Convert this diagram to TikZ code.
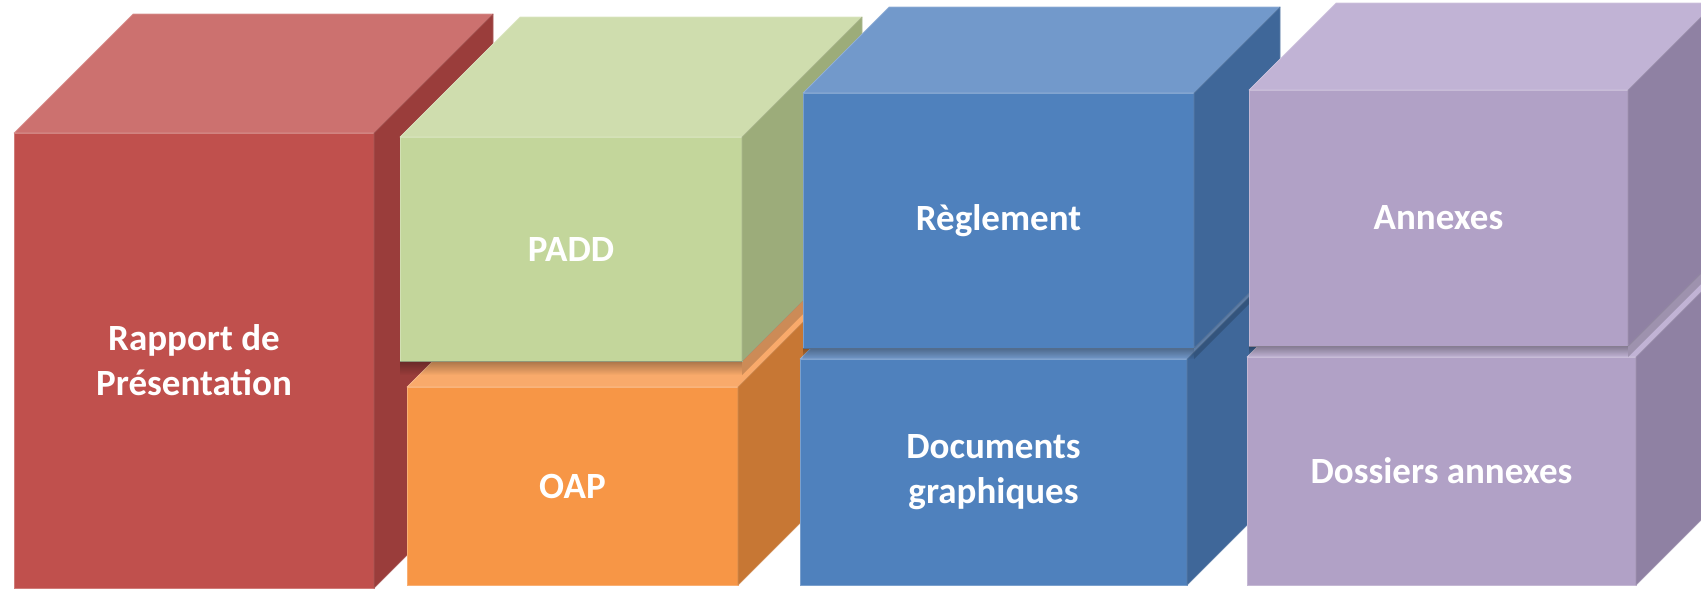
\documentclass[tikz,border=0pt]{standalone}
\usepackage{fontspec}
\setmainfont{Carlito}
\usetikzlibrary{fadings}
\definecolor{redF}{HTML}{C0504D}\definecolor{redT}{HTML}{CC716F}\definecolor{redS}{HTML}{9A3D3B}
\definecolor{grnF}{HTML}{C3D69B}\definecolor{grnT}{HTML}{CFDDAE}\definecolor{grnS}{HTML}{9CAC7A}
\definecolor{orgF}{HTML}{F79646}\definecolor{orgT}{HTML}{F9AA6B}\definecolor{orgS}{HTML}{C77734}
\definecolor{bluF}{HTML}{4F81BD}\definecolor{bluT}{HTML}{7299CB}\definecolor{bluS}{HTML}{3F6799}
\definecolor{purF}{HTML}{B1A1C6}\definecolor{purT}{HTML}{C1B3D5}\definecolor{purS}{HTML}{8F81A3}
\tikzfading[name=shadowfade, top color=transparent!30, bottom color=transparent!100]
\tikzset{
  face/.style={rectangle, inner sep=0pt, outer sep=0pt, text=white, align=center,
    font=\fontsize{37}{45}\selectfont\bfseries, line width=0.7pt},
  facet/.style={line width=0.7pt, line join=round},
  dropshade/.style={fill=black, opacity=0.45, path fading=shadowfade},
  diagshade/.style={fill=black, opacity=0.18}
}
% #1 name, #2 cx, #3 cy, #4 w, #5 h, #6 depth, #7 colour prefix, #8 text
\newcommand\mkcube[8]{%
  \node[face, fill=#7F, draw=#7F!75!white, minimum width=#4pt, minimum height=#5pt] (#1) at (#2,#3) {#8};
  \filldraw[facet, fill=#7T, draw=#7T!75!white] (#1.north west) -- ++(#6,-#6) -- ++(#4,0) -- (#1.north east) -- cycle;
  \filldraw[facet, fill=#7S, draw=#7S!85!white] (#1.north east) -- ++(#6,-#6) -- ++(0,#5) -- (#1.south east) -- cycle;
}
% shadow cast by an upper cube: #1 name, #2 front width, #3 depth, #4 shadow height
\newcommand\mkshade[4]{%
  \fill[dropshade] (#1.south west) rectangle ++(#2,#4);
  \fill[diagshade] (#1.south east) -- ++(#3,-#3) -- ++(0,#4) -- ++(-#3,#3) -- cycle;
}
\begin{document}
\begin{tikzpicture}[x=1pt, y=-1pt]
\useasboundingbox (0,0) rectangle (1701,590);
\clip (0,0) rectangle (1701,590);
\fill[white] (0,0) rectangle (1701,590);
\mkcube{rap}{194}{360.5}{360}{455}{119}{red}{Rapport de\\Présentation}
\mkcube{oap}{572.5}{486}{331}{198}{120}{org}{OAP}
\mkcube{padd}{571}{249}{342}{224}{120}{grn}{PADD}
\mkshade{padd}{342}{120}{14}
\mkcube{docs}{993.5}{472}{387}{226}{85}{blu}{Documents\\graphiques}
\mkcube{regl}{998.5}{220.5}{391}{255}{86}{blu}{Règlement}
\mkshade{regl}{391}{86}{11}
\mkcube{doss}{1441.5}{471}{389}{228}{87}{pur}{Dossiers annexes}
\mkcube{anx}{1438.5}{218}{379}{256}{87}{pur}{Annexes}
\mkshade{anx}{379}{87}{11}
\end{tikzpicture}
\end{document}
